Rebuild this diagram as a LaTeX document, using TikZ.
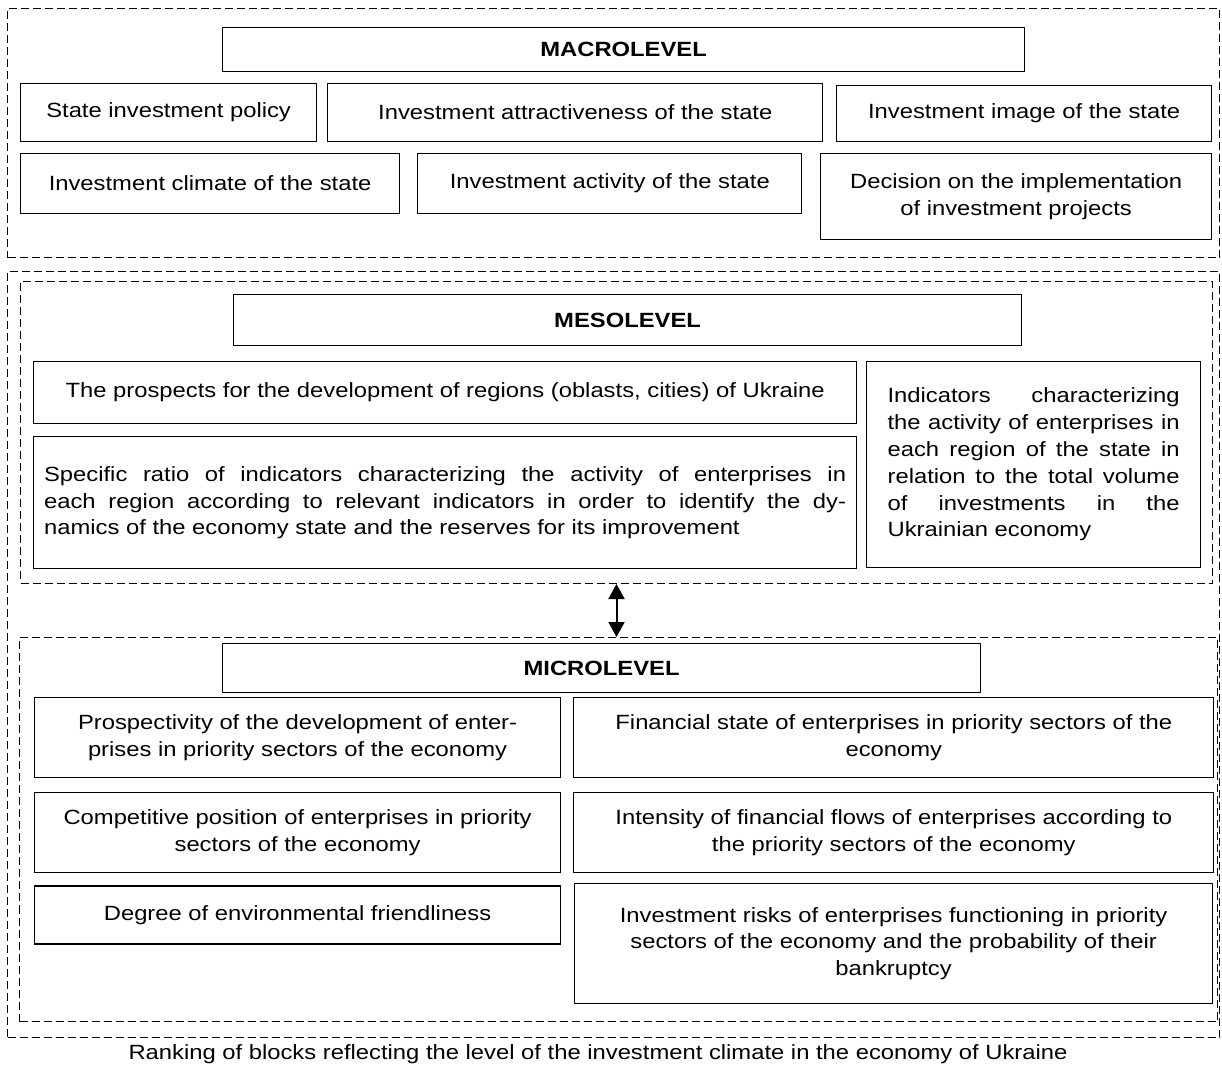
\documentclass[tikz,border=0pt]{standalone}
\usepackage{fontspec}
\setmainfont{Liberation Sans}[FakeStretch=1.155]
\usetikzlibrary{positioning,arrows.meta}
\hbadness=10000

\begin{document}
\begin{tikzpicture}
[x=0.5pt,y=-0.5pt,
 every node/.style={font=\fontsize{10.3}{13.4}\selectfont,inner sep=0pt},
 sz/.style 2 args={minimum width=#1*0.5pt,minimum height=#2*0.5pt},
 blk/.style={draw,line width=0.6pt,align=center},
 title/.style={blk,font=\fontsize{10.3}{13.4}\selectfont\bfseries},
 just/.style={draw,line width=0.6pt,align=justify,text width=#1*0.5pt},
 frame/.style={draw,line width=0.5pt,dash pattern=on 4pt off 2pt}]
\useasboundingbox (0,0) rectangle (1222,1065);
% macrolevel
\node[frame,sz={1212}{249},anchor=north west](macro) at (7,8){};
\node[title,sz={802}{44},anchor=north west](macrot) at (222,27){MACROLEVEL};
\node[blk,sz={296}{58},anchor=north west](spol) at (20,83){State investment policy};
\node[blk,sz={495}{58},right=5pt of spol](sattr){Investment attractiveness of the state};
\node[blk,sz={375}{56},anchor=north west](simage) at (836,85){Investment image of the state};
\node[blk,sz={379}{60},anchor=north west](sclim) at (20,153){Investment climate of the state};
\node[blk,sz={384}{60},right=8.5pt of sclim](sact){Investment activity of the state};
\node[blk,sz={391}{86},anchor=north west](sdec) at (820,153){Decision on the implementation\\of investment projects};
% meso and micro
\node[frame,sz={1212}{766},anchor=north west](outer) at (7,271){};
\node[frame,sz={1192}{302},anchor=north west](meso) at (20,281){};
\node[title,sz={788}{51},anchor=north west](mesot) at (233,294){MESOLEVEL};
\node[blk,sz={823}{62},anchor=north west](prosp) at (33,361){The prospects for the development of regions (oblasts, cities) of Ukraine};
\node[just=802,sz={823}{132},below=6pt of prosp](ratio){Specific ratio of indicators characterizing the activity of enterprises in\linebreak
  each region according to relevant indicators in order to identify the dy-\linebreak
  namics of the economy state and the reserves for its improvement};
\node[just=292,sz={334}{206},anchor=north west](indic) at (866,361){Indicators characterizing\linebreak
  the activity of enterprises in\linebreak each region of the state in\linebreak
  relation to the total volume\linebreak of investments in the\linebreak Ukrainian economy};
\node[frame,sz={1198}{384},anchor=north west](micro) at (19,637){};
\node[title,sz={758}{49},anchor=north west](microt) at (222,643){MICROLEVEL};
\node[blk,sz={526}{80},anchor=north west](pdev) at (34,697){Prospectivity of the development of enter-\\prises in priority sectors of the economy};
\node[blk,sz={640}{80},right=6pt of pdev](fin){Financial state of enterprises in priority sectors of the\\economy};
\node[blk,sz={526}{80},below=7pt of pdev](comp){Competitive position of enterprises in priority\\sectors of the economy};
\node[blk,sz={640}{80},below=7pt of fin](flow){Intensity of financial flows of enterprises according to\\the priority sectors of the economy};
\node[blk,sz={526}{58},below=6pt of comp](eco){Degree of environmental friendliness};
\node[blk,sz={638}{120},anchor=north west](risk) at (574,883){Investment risks of enterprises functioning in priority\\sectors of the economy and the probability of their\\bankruptcy};
\draw[line width=1pt,{Triangle[width=8pt,length=7.5pt]}-{Triangle[width=8pt,length=7.5pt]}] (meso.south) -- (meso.south |- micro.north);
\node(cap) at (598,1054){Ranking of blocks reflecting the level of the investment climate in the economy of Ukraine};
\end{tikzpicture}
\end{document}
